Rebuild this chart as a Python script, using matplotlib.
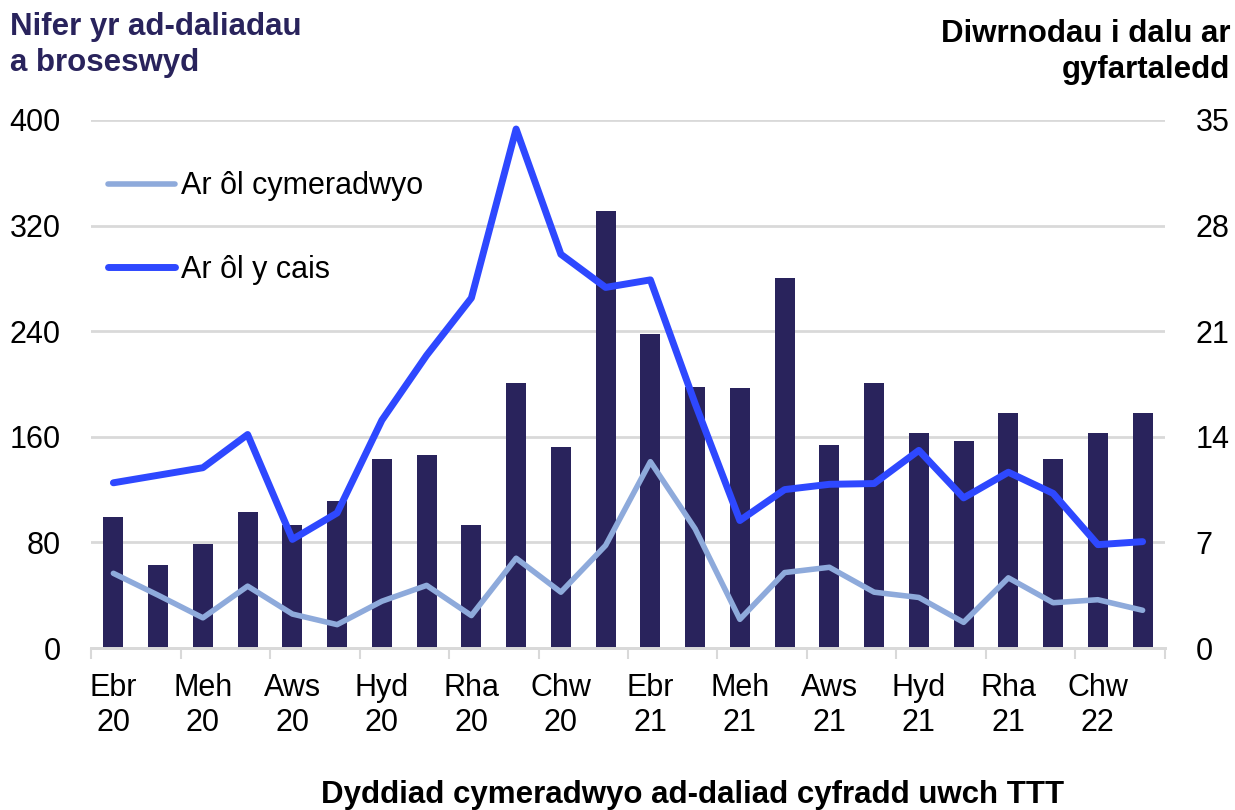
import numpy as np
import matplotlib.pyplot as plt

plt.rcParams['font.family'] = ['Liberation Sans', 'DejaVu Sans']

# months Apr 2020 - Mar 2022
month_labels = ['Ebr\n20', 'Meh\n20', 'Aws\n20', 'Hyd\n20', 'Rha\n20', 'Chw\n20',
                'Ebr\n21', 'Meh\n21', 'Aws\n21', 'Hyd\n21', 'Rha\n21', 'Chw\n22']

# number of refunds processed (left axis)
refunds = [99, 63, 79, 103, 93, 111, 143, 146, 93, 201, 152, 331,
           238, 198, 197, 280, 154, 201, 163, 157, 178, 143, 163, 178]

# average days to pay (right axis)
after_approval = [4.95, 3.5, 2.0, 4.1, 2.25, 1.55, 3.1, 4.15, 2.15, 5.95, 3.7, 6.8,
                  12.35, 7.9, 1.9, 5.0, 5.35, 3.7, 3.35, 1.7, 4.65, 3.0, 3.2, 2.5]
after_claim = [10.95, 11.45, 11.95, 14.15, 7.2, 8.95, 15.1, 19.4, 23.2, 34.4, 26.1, 23.9,
               24.4, 16.2, 8.45, 10.5, 10.85, 10.9, 13.1, 9.95, 11.65, 10.25, 6.85, 7.05]

navy = '#29235C'
light_blue = '#8EAADB'
bright_blue = '#2E48FF'
grid_col = '#D9D9D9'

x = np.arange(len(refunds))

fig = plt.figure(figsize=(12.35, 8.1), dpi=100)
ax = fig.add_axes([0.0737, 0.2, 0.8696, 0.6519])
ax2 = ax.twinx()

ax.bar(x, refunds, width=0.45, color=navy, zorder=2)
ax.set_ylim(0, 400)
ax.set_yticks(np.arange(0, 401, 80))
ax.set_xlim(-0.5, len(refunds) - 0.5)
ax.grid(axis='y', color=grid_col, linewidth=2, zorder=0)
ax.set_axisbelow(True)

ax2.plot(x, after_approval, color=light_blue, linewidth=4, label='Ar ôl cymeradwyo',
         solid_capstyle='round', solid_joinstyle='round')
ax2.plot(x, after_claim, color=bright_blue, linewidth=5, label='Ar ôl y cais',
         solid_capstyle='round', solid_joinstyle='round')
ax2.set_ylim(0, 35)
ax2.set_yticks(np.arange(0, 36, 7))

for a in (ax, ax2):
    for s in ('top', 'left', 'right'):
        a.spines[s].set_visible(False)
    a.spines['bottom'].set_color(grid_col)
    a.spines['bottom'].set_linewidth(2)

ax.tick_params(axis='y', length=0, labelsize=22, pad=22)
ax2.tick_params(axis='y', length=0, labelsize=22, pad=22)

# tick marks between month pairs, labels at every other month
ax.set_xticks(np.arange(-0.5, len(refunds), 2))
ax.set_xticklabels([])
ax.tick_params(axis='x', which='major', length=8, width=1.5, color=grid_col)
ax.set_xticks(np.arange(0, len(refunds), 2), minor=True)
ax.set_xticklabels(month_labels, minor=True)
ax.tick_params(axis='x', which='minor', length=0, labelsize=22, pad=18)

ax2.legend(loc='upper left', bbox_to_anchor=(-0.01, 0.955), frameon=False, fontsize=22,
           handlelength=2.2, handletextpad=0.2, labelspacing=1.75, borderaxespad=0.5)

fig.text(0.008, 0.985, 'Nifer yr ad-daliadau\na broseswyd', ha='left', va='top',
         fontsize=22.5, fontweight='bold', color=navy, linespacing=1.25)
fig.text(0.996, 0.976, 'Diwrnodau i dalu ar\ngyfartaledd', ha='right', va='top',
         fontsize=22.5, fontweight='bold', color='black', linespacing=1.25,
         multialignment='right')
fig.text(0.561, 0.0, 'Dyddiad cymeradwyo ad-daliad cyfradd uwch TTT', ha='center',
         va='bottom', fontsize=22.5, fontweight='bold', color='black')

fig.savefig('out.png', dpi=100)
